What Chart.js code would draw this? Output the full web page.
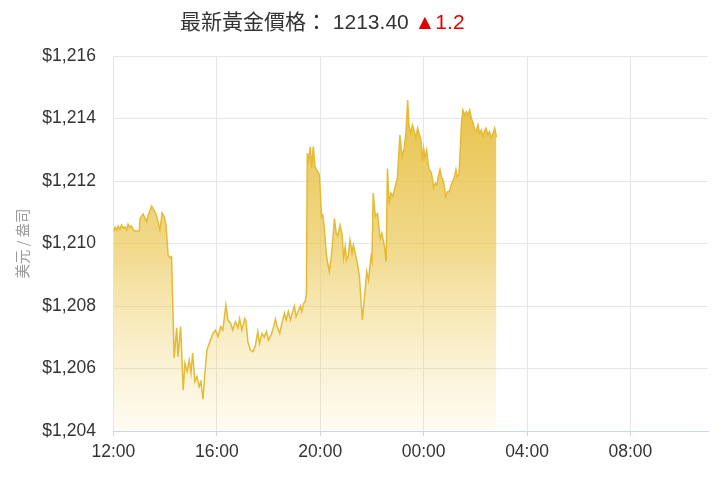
<!DOCTYPE html>
<html>
<head>
<meta charset="utf-8">
<script src="https://cdn.jsdelivr.net/npm/chart.js@4/dist/chart.umd.min.js"></script>
<style>
    body { margin: 0; background: #fff; }
    #wrap { position: relative; width: 720px; height: 480px; }
    #head {
        position: absolute; left: 180px; top: 5px;
        font-family: "Liberation Sans", Arial, "Noto Sans CJK TC", sans-serif;
        font-size: 21px; color: #333; white-space: nowrap;
    }
    #head .up { color: #e10000; }
</style>
</head>
<body>
<div id="wrap">
    <div id="head">最新黃金價格： 1213.40 <span class="up">▲1.2</span></div>
    <canvas id="gold" width="720" height="480"></canvas>
</div>
<script>
// minutes after 12:00
const minutes = [
    0, 4, 8, 11, 15, 19, 23, 27, 31, 34,
    38, 42, 46, 50, 60, 62, 69, 77, 82, 89,
    96, 100, 108, 113, 118, 122, 127, 131, 135, 141,
    147, 150, 156, 162, 166, 171, 176, 180, 184, 189,
    194, 199, 203, 208, 212, 217, 224, 231, 237, 243,
    249, 254, 261, 266, 272, 277, 283, 289, 293, 298,
    305, 308, 312, 318, 324, 329, 335, 339, 345, 350,
    355, 360, 366, 372, 376, 380, 386, 390, 397, 401,
    406, 411, 416, 420, 424, 430, 434, 437, 442, 445,
    448, 450, 453, 457, 460, 464, 468, 474, 478, 480,
    483, 486, 489, 494, 497, 501, 505, 508, 513, 517,
    521, 526, 531, 534, 538, 541, 545, 549, 554, 557,
    561, 567, 571, 575, 578, 582, 588, 592, 598, 600,
    603, 608, 613, 619, 623, 629, 633, 636, 640, 644,
    649, 654, 659, 665, 670, 675, 679, 683, 686, 690,
    694, 698, 702, 706, 710, 714, 717, 720, 723, 727,
    730, 733, 737, 740, 743, 747, 751, 754, 758, 761,
    765, 768, 771, 775, 779, 783, 787, 791, 795, 798,
    802, 805, 808, 811, 815, 819, 823, 827, 831, 835,
    839, 842, 846, 850, 854, 858, 862, 865, 869, 873,
    877, 881, 885, 889
];
const prices = [
    1210.38, 1210.52, 1210.43, 1210.56, 1210.45, 1210.59, 1210.49, 1210.54, 1210.43, 1210.62,
    1210.52, 1210.56, 1210.43, 1210.40, 1210.40, 1210.80, 1210.94, 1210.70, 1210.95, 1211.20,
    1211.02, 1210.90, 1210.43, 1210.98, 1210.85, 1210.60, 1209.63, 1209.54, 1209.58, 1206.34,
    1207.30, 1206.38, 1207.34, 1205.31, 1206.17, 1205.90, 1206.27, 1205.86, 1206.49, 1205.58,
    1205.74, 1205.42, 1205.58, 1205.01, 1205.79, 1206.59, 1206.86, 1207.12, 1207.23, 1207.02,
    1207.34, 1207.23, 1208.03, 1207.55, 1207.45, 1207.23, 1207.50, 1207.30, 1207.60, 1207.23,
    1207.60, 1207.50, 1206.86, 1206.59, 1206.54, 1206.70, 1207.18, 1206.80, 1207.12, 1207.00,
    1207.18, 1206.90, 1207.07, 1207.34, 1207.58, 1207.34, 1207.12, 1207.39, 1207.77, 1207.55,
    1207.82, 1207.55, 1207.82, 1208.00, 1207.66, 1207.87, 1208.00, 1207.82, 1208.09, 1208.14,
    1208.40, 1212.89, 1212.67, 1213.10, 1212.40, 1213.10, 1212.45, 1212.30, 1212.20, 1211.71,
    1210.86, 1210.92, 1210.54, 1209.69, 1209.40, 1209.10, 1209.50, 1209.90, 1210.80, 1210.33,
    1210.25, 1210.59, 1210.27, 1209.53, 1209.90, 1209.47, 1209.60, 1210.11, 1209.69, 1209.95,
    1209.70, 1209.31, 1208.94, 1208.10, 1207.55, 1208.19, 1209.10, 1208.83, 1209.58, 1209.45,
    1211.61, 1210.86, 1210.96, 1210.15, 1210.33, 1209.90, 1209.42, 1212.40, 1211.25, 1211.61,
    1211.50, 1211.82, 1212.08, 1213.47, 1212.78, 1213.05, 1213.55, 1214.59, 1213.79, 1213.53,
    1213.79, 1213.60, 1213.37, 1213.69, 1213.50, 1213.31, 1212.62, 1213.05, 1212.75, 1212.99,
    1212.60, 1212.35, 1212.30, 1212.09, 1211.77, 1211.93, 1211.88, 1212.14, 1212.37, 1212.14,
    1212.03, 1211.82, 1211.50, 1211.66, 1211.66, 1211.82, 1211.98, 1212.09, 1212.37, 1212.14,
    1212.20, 1212.99, 1213.90, 1214.27, 1214.11, 1214.22, 1214.11, 1214.27, 1214.00, 1213.85,
    1213.63, 1213.58, 1213.79, 1213.53, 1213.63, 1213.42, 1213.63, 1213.69, 1213.47, 1213.58,
    1213.37, 1213.53, 1213.69, 1213.40
];
const timeLabels = ['12:00', '16:00', '20:00', '00:00', '04:00', '08:00'];
const priceMin = 1204;
const priceMax = 1216;

const labelFont = { family: '"Liberation Sans", Arial, sans-serif', size: 17.5 };

const ctx = document.getElementById('gold').getContext('2d');
new Chart(ctx, {
    type: 'line',
    data: {
        datasets: [{
            data: minutes.map((m, i) => ({ x: m, y: prices[i] })),
            borderColor: '#e5bb36',
            borderWidth: 1.5,
            pointRadius: 0,
            tension: 0,
            fill: 'start',
            backgroundColor: (c) => {
                const area = c.chart.chartArea;
                if (!area) return 'rgba(232,192,64,0.6)';
                const g = c.chart.ctx.createLinearGradient(0, area.top, 0, area.bottom);
                g.addColorStop(0, 'rgba(229,186,50,1)');
                g.addColorStop(0.5, 'rgba(234,198,80,0.68)');
                g.addColorStop(1, 'rgba(245,222,140,0.12)');
                return g;
            }
        }]
    },
    options: {
        responsive: false,
        animation: false,
        devicePixelRatio: 1,
        layout: { padding: { top: 56, right: 12, bottom: 11, left: 10 } },
        plugins: {
            legend: { display: false },
            tooltip: { enabled: false }
        },
        scales: {
            x: {
                type: 'linear',
                min: 0,
                max: 1380,
                grid: { color: '#e6e6e6', tickColor: '#ccd6eb', tickLength: 5 },
                border: { color: '#ccd6eb' },
                ticks: {
                    stepSize: 240,
                    includeBounds: false,
                    maxRotation: 0,
                    padding: 6,
                    color: '#333',
                    font: labelFont,
                    callback: (v) => timeLabels[v / 240]
                }
            },
            y: {
                min: priceMin,
                max: priceMax,
                afterFit: (s) => { s.width = 103.4; },
                grid: { color: '#e6e6e6', drawTicks: false },
                border: { display: false },
                ticks: {
                    stepSize: 2,
                    padding: 17.5,
                    color: '#333',
                    font: labelFont,
                    callback: (v) => '$' + v.toLocaleString('en-US')
                },
                title: {
                    display: true,
                    text: '美元 / 盎司',
                    color: '#999',
                    font: { family: '"Noto Sans CJK TC", sans-serif', size: 14.5 },
                    padding: { top: 4, bottom: 4 }
                }
            }
        }
    }
});
</script>
</body>
</html>
